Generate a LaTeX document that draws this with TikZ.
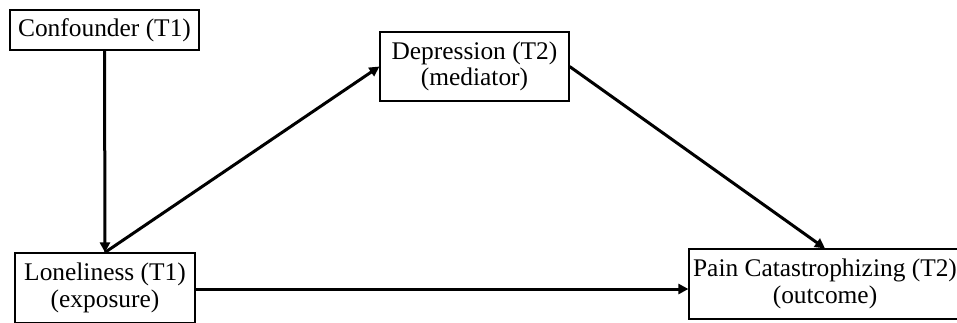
\documentclass[tikz,border=0pt]{standalone}
\usepackage{fontspec}
\setmainfont{Liberation Serif}
\usetikzlibrary{arrows.meta}
\begin{document}
\begin{tikzpicture}[x=1pt,y=-1pt,
  box/.style={draw=black,line width=1.2pt,rectangle,inner sep=0pt,align=center,
    font=\fontsize{25.4}{26.5}\selectfont,fill=white},
  conn/.style={line width=3pt,-{Triangle[length=10pt,width=10pt]}}]
\useasboundingbox (0,0) rectangle (957,322);
\node[box,minimum width=189pt,minimum height=40pt] (conf) at (104.5,30) {Confounder (T1)};
\node[box,minimum width=189pt,minimum height=69pt] (dep) at (474.5,66.5) {Depression (T2)\\(mediator)};
\node[box,minimum width=180pt,minimum height=70pt] (lon) at (105,288) {Loneliness (T1)\\(exposure)};
\node[box,minimum width=272pt,minimum height=70pt] (pain) at (825,284) {Pain Catastrophizing (T2)\\(outcome)};
\draw[conn] (conf.south) -- (lon.north);
\draw[conn] (lon.north) -- (dep.west);
\draw[conn] (dep.east) -- (pain.north);
\draw[conn] ([yshift=-1pt]lon.east) -- ([yshift=-1pt]lon.east -| pain.west);
\end{tikzpicture}
\end{document}
